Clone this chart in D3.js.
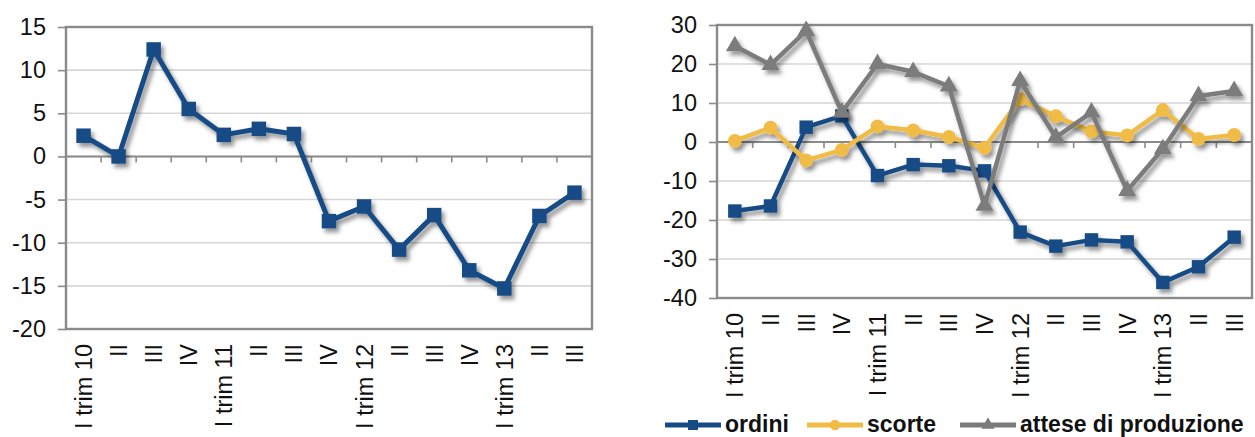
<!DOCTYPE html>
<html>
<head>
<meta charset="utf-8">
<script src="https://cdn.jsdelivr.net/npm/d3@7"></script>
<style>
  html, body { margin: 0; padding: 0; background: #ffffff; }
  svg { display: block; font-family: "Liberation Sans", Arial, sans-serif; }
</style>
</head>
<body>
<svg id="chart" width="1255" height="437"></svg>
<script>
// Quarter labels shared by both panels
const categories = ["I trim 10", "II", "III", "IV", "I trim 11", "II", "III", "IV",
                    "I trim 12", "II", "III", "IV", "I trim 13", "II", "III"];

// Left panel: single series
const saldo = [2.4, 0, 12.4, 5.5, 2.5, 3.2, 2.6, -7.5, -5.8, -10.8, -6.8, -13.2, -15.3, -6.9, -4.2];
const leftTicks = [15, 10, 5, 0, -5, -10, -15, -20];

// Right panel: three series
const ordini = [-17.7, -16.4, 3.8, 6.7, -8.6, -5.8, -6.1, -7.4, -23.1, -26.7, -25.1, -25.6, -36, -32, -24.4];
const scorte = [0.3, 3.7, -4.7, -2, 4, 3, 1.3, -1.5, 11, 6.6, 2.7, 1.7, 8.2, 0.8, 1.8];
const attese = [24.6, 19.8, 28.5, 7.6, 20, 18, 14.3, -16.3, 15.7, 1.2, 7.6, -12.5, -1.8, 11.8, 13.1];
const rightTicks = [30, 20, 10, 0, -10, -20, -30, -40];

const seriesNames = ["ordini", "scorte", "attese di produzione"];

const BLUE = "#174b86";
const YELLOW = "#f1bc45";
const GREY = "#7b7b7b";
const FRAME = "#8a8a8a";
const GRID = "#d6d6d6";

const svg = d3.select("#chart");

// soft drop shadow under lines and markers
const defs = svg.append("defs");
const f = defs.append("filter").attr("id", "shadow")
  .attr("x", "-10%").attr("y", "-10%").attr("width", "120%").attr("height", "130%");
f.append("feDropShadow").attr("dx", 3).attr("dy", 4).attr("stdDeviation", 2.2)
  .attr("flood-color", "#000").attr("flood-opacity", 0.42);

function drawPanel(opts) {
  const { x0, x1, yTop, yBottom, domain, ticks, series } = opts;
  const g = svg.append("g");

  const x = d3.scaleBand().domain(d3.range(categories.length)).range([x0, x1]).padding(0);
  const y = d3.scaleLinear().domain(domain).range([yBottom, yTop]);
  const bw = x.bandwidth();

  // horizontal gridlines
  g.append("g").selectAll("line").data(ticks).join("line")
    .attr("x1", x0).attr("x2", x1)
    .attr("y1", d => y(d)).attr("y2", d => y(d))
    .attr("stroke", GRID).attr("stroke-width", 1.6);

  // value axis with outside ticks (plain hyphen for negatives)
  const yAxis = g.append("g").attr("transform", `translate(${x0},0)`)
    .call(d3.axisLeft(y).tickValues(ticks).tickSize(8).tickPadding(12).tickFormat(d => String(d)));
  yAxis.select(".domain").remove();
  yAxis.selectAll(".tick line").attr("stroke", FRAME).attr("stroke-width", 1.6);
  yAxis.selectAll(".tick text").attr("font-size", 23.5).attr("fill", "#111")
    .attr("font-family", "Liberation Sans, Arial, sans-serif");

  // category axis crossing at zero
  const bounds = d3.range(categories.length + 1);
  g.append("g").selectAll("line").data(bounds).join("line")
    .attr("x1", i => i < categories.length ? x(i) : x0 + bw * i)
    .attr("x2", i => i < categories.length ? x(i) : x0 + bw * i)
    .attr("y1", y(0)).attr("y2", y(0) + 6)
    .attr("stroke", FRAME).attr("stroke-width", 1.6);
  g.append("line").attr("x1", x0).attr("x2", x1).attr("y1", y(0)).attr("y2", y(0))
    .attr("stroke", FRAME).attr("stroke-width", 2);

  // plot frame
  g.append("rect").attr("x", x0).attr("y", yTop).attr("width", x1 - x0).attr("height", yBottom - yTop)
    .attr("fill", "none").attr("stroke", FRAME).attr("stroke-width", 2.4);

  // rotated category labels under the frame
  g.append("g").selectAll("text").data(categories).join("text")
    .attr("transform", (d, i) => `translate(${x(i) + bw / 2},${yBottom + 15}) rotate(-90)`)
    .attr("text-anchor", "end").attr("dy", "0.36em")
    .attr("font-size", 23.5).attr("fill", "#111")
    .text(d => d);

  // series: line plus markers, with shadow
  series.forEach(s => {
    const sg = g.append("g").attr("filter", "url(#shadow)");
    sg.append("path").datum(s.values)
      .attr("d", d3.line().x((d, i) => x(i) + bw / 2).y(d => y(d)))
      .attr("fill", "none").attr("stroke", s.color).attr("stroke-width", s.width)
      .attr("stroke-linejoin", "round");
    sg.selectAll("path.m").data(s.values).join("path").attr("class", "m")
      .attr("transform", (d, i) => `translate(${x(i) + bw / 2},${y(d)})`)
      .attr("d", d3.symbol().type(s.symbol).size(s.size))
      .attr("fill", s.color);
  });
}

// left panel
drawPanel({
  x0: 66, x1: 592, yTop: 27, yBottom: 329,
  domain: [-20, 15], ticks: leftTicks,
  series: [{ values: saldo, color: BLUE, width: 5, symbol: d3.symbolSquare, size: 210 }]
});

// right panel
const rightSeries = [
  { name: seriesNames[0], values: ordini, color: BLUE, width: 4.5, symbol: d3.symbolSquare, size: 180 },
  { name: seriesNames[1], values: scorte, color: YELLOW, width: 4.5, symbol: d3.symbolCircle, size: 150 },
  { name: seriesNames[2], values: attese, color: GREY, width: 4.5, symbol: d3.symbolTriangle, size: 140 }
];
drawPanel({
  x0: 717, x1: 1252, yTop: 25, yBottom: 298,
  domain: [-40, 30], ticks: rightTicks,
  series: rightSeries
});

// legend below the right panel
const legendX = [665, 807, 960];
const legend = svg.append("g");
rightSeries.forEach((s, i) => {
  const lg = legend.append("g").attr("transform", `translate(${legendX[i]},425)`);
  lg.append("line").attr("x1", 0).attr("x2", 56).attr("y1", 0).attr("y2", 0)
    .attr("stroke", s.color).attr("stroke-width", 5);
  lg.append("path").attr("transform", "translate(28,0)")
    .attr("d", d3.symbol().type(s.symbol).size(s.size * 0.55)).attr("fill", s.color);
  lg.append("text").attr("x", 60).attr("y", 7).attr("font-size", 23).attr("font-weight", "bold")
    .attr("fill", "#111").text(s.name);
});
</script>
</body>
</html>
